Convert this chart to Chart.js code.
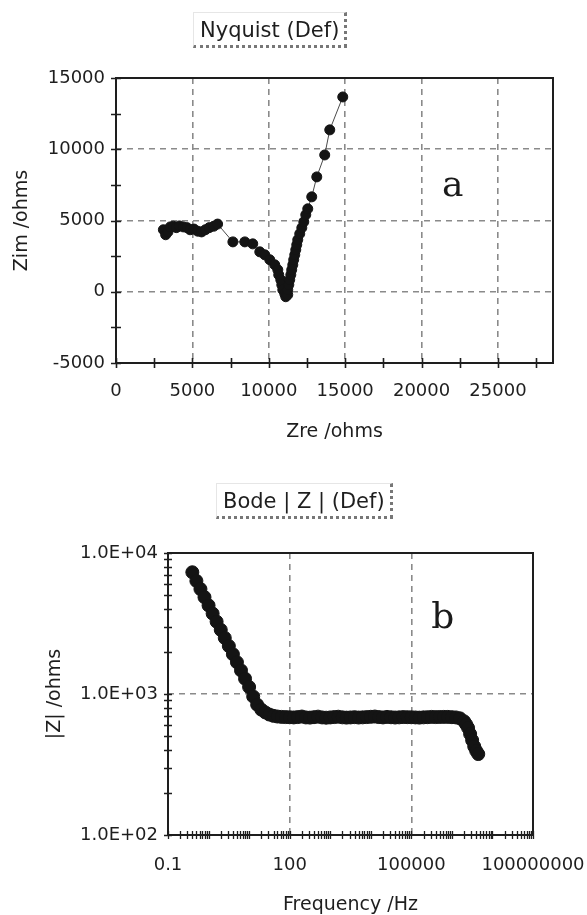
<!DOCTYPE html>
<html>
<head>
<meta charset="utf-8">
<title>Impedance spectra</title>
<script src="https://cdn.jsdelivr.net/npm/chart.js@4.4.1/dist/chart.umd.min.js"></script>
<style>
  html, body { margin: 0; padding: 0; background: #fff; overflow: hidden; }
  #page { position: relative; width: 587px; height: 915px; }
  canvas { position: absolute; left: 0; }
  #nyquist { top: 0; }
  #bode { top: 458px; }
  .plot-title {
    position: absolute;
    font: 21px "DejaVu Sans", sans-serif;
    line-height: 28px;
    color: #1e1e1e;
    white-space: nowrap;
    padding: 3px 5px 1px 6px;
    border-top: 1px solid #e6e6e6;
    border-left: 1px solid #e6e6e6;
    border-right: 3px dotted #777;
    border-bottom: 3px dotted #777;
  }
</style>
</head>
<body>
<div id="page">
  <canvas id="nyquist" width="587" height="460"></canvas>
  <canvas id="bode" width="587" height="457"></canvas>
  <div class="plot-title" style="left:193px; top:12px;">Nyquist (Def)</div>
  <div class="plot-title" style="left:216px; top:483px;">Bode | Z | (Def)</div>
</div>
<script>
// Nyquist: real and imaginary impedance, ohms
const zre = [
  3100, 3250, 3400, 3550, 3750, 3950, 4150, 4400, 4650, 4850, 5100, 5350,
  5600, 5850, 6100, 6400, 6650,
  7650, 8430, 8950, 9410, 9740, 10065, 10390, 10590, 10650, 10785, 10850,
  10915, 11045, 11110,
  11240, 11240, 11310, 11370, 11440, 11500, 11570, 11630, 11700, 11765,
  11830, 11895, 12025, 12160, 12290, 12420, 12550,
  12810, 13140, 13660, 13990, 14840,
];
const zim = [
  4350, 4000, 4200, 4550, 4600, 4500, 4620, 4550, 4500, 4350, 4400, 4250,
  4200, 4350, 4500, 4600, 4750,
  3500, 3500, 3360, 2800, 2590, 2245, 1890, 1540, 1190, 840, 490,
  140, -140, -350,
  -210, 140, 490, 840, 1190, 1540, 1890, 2245, 2590, 2945,
  3295, 3645, 4065, 4485, 4905, 5400, 5820,
  6660, 8060, 9600, 11360, 13670,
];

// Bode: frequency (Hz) and |Z| (ohms)
const freq = [
  0.398, 0.501, 0.631, 0.794, 1, 1.26, 1.58, 2, 2.51, 3.16, 3.98, 5.01, 6.31, 7.94,
  10, 12.6, 15.8, 20, 25.1, 31.6, 39.8, 50.1, 63.1, 79.4,
  100, 126, 158, 200, 251, 316, 398, 501, 631, 794,
  1000, 1260, 1580, 2000, 2510, 3160, 3980, 5010, 6310, 7940,
  10000, 12600, 15800, 20000, 25100, 31600, 39800, 50100, 63100, 79400,
  100000, 126000, 158000, 200000, 251000, 316000, 398000, 501000, 631000, 794000,
  1000000, 1260000, 1580000, 2000000, 2240000, 2510000, 2820000, 3160000,
  3550000, 3980000, 4470000,
];
const zmod = [
  7300, 6340, 5550, 4860, 4250, 3720, 3260, 2850, 2500, 2190, 1915, 1680, 1470, 1285,
  1120, 960, 840, 775, 740, 715, 700, 692, 688, 686,
  684, 682, 686, 692, 682, 680, 685, 691, 682, 679,
  682, 686, 690, 683, 680, 682, 685, 681, 683, 686,
  689, 692, 686, 682, 688, 684, 681, 683, 686, 685,
  684, 682, 680, 683, 685, 688, 686, 687, 688, 688,
  685, 682, 672, 640, 610, 575, 520, 470,
  425, 395, 375,
];

// Major ticks and labels
const nyqXTicks = [0, 5000, 10000, 15000, 20000, 25000];
const nyqYTicks = [-5000, 0, 5000, 10000, 15000];
const bodeXTicks = [0.1, 100, 100000, 100000000];
const bodeXLabels = ["0.1", "100", "100000", "100000000"];
const bodeYTicks = [100, 1000, 10000];
const bodeYLabels = ["1.0E+02", "1.0E+03", "1.0E+04"];

Chart.defaults.font.family = "'DejaVu Sans', sans-serif";
Chart.defaults.color = "#1e1e1e";

const linearSteps = (min, max, step) => {
  const out = [];
  for (let v = min; v <= max; v += step) out.push(v);
  return out;
};

const logSteps = (minExp, maxExp) => {
  const out = [];
  for (let e = minExp; e < maxExp; e++) {
    for (let m = 1; m <= 9; m++) out.push(m * Math.pow(10, e));
  }
  out.push(Math.pow(10, maxExp));
  return out;
};

// Box around the plot, tick marks crossing the axes, panel letter
const frameTicks = {
  id: "frameTicks",
  beforeDatasetsDraw(chart, args, opts) {
    const { ctx, chartArea: a, scales } = chart;
    ctx.save();
    ctx.strokeStyle = "#1e1e1e";
    ctx.lineWidth = 2;
    ctx.strokeRect(a.left, a.top, a.right - a.left, a.bottom - a.top);

    ctx.lineWidth = opts.tickWidth;
    ctx.beginPath();
    opts.xMinor.forEach((v) => {
      const px = Math.round(scales.x.getPixelForValue(v)) + 0.5;
      ctx.moveTo(px, a.bottom - opts.tickLen);
      ctx.lineTo(px, a.bottom + opts.tickLen);
    });
    opts.yMinor.forEach((v) => {
      const py = Math.round(scales.y.getPixelForValue(v)) + 0.5;
      ctx.moveTo(a.left - opts.tickLen, py);
      ctx.lineTo(a.left + opts.tickLen, py);
    });
    ctx.stroke();
    ctx.restore();
  },
  afterDatasetsDraw(chart, args, opts) {
    const { ctx, scales } = chart;
    ctx.save();
    ctx.font = "36px 'DejaVu Serif', serif";
    ctx.fillStyle = "#1a1a1a";
    ctx.textAlign = "center";
    ctx.textBaseline = "alphabetic";
    ctx.fillText(
      opts.label.text,
      scales.x.getPixelForValue(opts.label.x),
      scales.y.getPixelForValue(opts.label.y)
    );
    ctx.restore();
  },
};

const gridStyle = { color: "#8a8a8a", lineWidth: 1.6, drawTicks: false };
const borderStyle = { display: false, dash: [6, 5] };
const tickFont = { size: 18 };
const titleFont = { size: 19, lineHeight: 1 };

new Chart(document.getElementById("nyquist"), {
  type: "scatter",
  data: {
    datasets: [
      {
        data: zre.map((x, i) => ({ x, y: zim[i] })),
        showLine: true,
        borderColor: "#4a4a4a",
        borderWidth: 1,
        pointRadius: 5,
        pointBackgroundColor: "#141414",
        pointBorderColor: "#141414",
        pointBorderWidth: 1,
      },
    ],
  },
  options: {
    responsive: false,
    animation: false,
    layout: { padding: { top: 78, right: 34, left: 0, bottom: 0 } },
    plugins: {
      legend: { display: false },
      tooltip: { enabled: false },
      frameTicks: {
        xMinor: linearSteps(0, 27500, 2500),
        yMinor: linearSteps(-5000, 15000, 2500),
        tickLen: 5,
        tickWidth: 1.6,
        label: { text: "a", x: 22030, y: 6730 },
      },
    },
    scales: {
      x: {
        type: "linear",
        min: 0,
        max: 28600,
        afterBuildTicks: (s) => { s.ticks = nyqXTicks.map((value) => ({ value })); },
        afterFit: (s) => { s.height = 97; s.paddingLeft = 0; s.paddingRight = 0; },
        grid: gridStyle,
        border: borderStyle,
        ticks: { padding: 18, font: tickFont, maxRotation: 0, autoSkip: false, callback: (v) => String(v) },
        title: { display: true, text: "Zre /ohms", font: titleFont, padding: { top: 0, bottom: 18.5 } },
      },
      y: {
        type: "linear",
        min: -5000,
        max: 15000,
        afterBuildTicks: (s) => { s.ticks = nyqYTicks.map((value) => ({ value })); },
        afterFit: (s) => { s.width = 116; s.paddingTop = 0; s.paddingBottom = 0; },
        grid: gridStyle,
        border: borderStyle,
        ticks: { padding: 11, font: tickFont, autoSkip: false, callback: (v) => String(v) },
        title: { display: true, text: "Zim /ohms", font: titleFont, padding: { top: 12.5, bottom: 0 } },
      },
    },
  },
  plugins: [frameTicks],
});

new Chart(document.getElementById("bode"), {
  type: "scatter",
  data: {
    datasets: [
      {
        data: freq.map((x, i) => ({ x, y: zmod[i] })),
        pointRadius: 6.5,
        pointBackgroundColor: "#141414",
        pointBorderColor: "#141414",
        pointBorderWidth: 1,
      },
    ],
  },
  options: {
    responsive: false,
    animation: false,
    layout: { padding: { top: 95, right: 54, left: 0, bottom: 0 } },
    plugins: {
      legend: { display: false },
      tooltip: { enabled: false },
      frameTicks: {
        xMinor: logSteps(-1, 8),
        yMinor: logSteps(2, 4),
        tickLen: 4,
        tickWidth: 1.3,
        label: { text: "b", x: 593000, y: 2940 },
      },
    },
    scales: {
      x: {
        type: "logarithmic",
        min: 0.1,
        max: 100000000,
        afterBuildTicks: (s) => { s.ticks = bodeXTicks.map((value) => ({ value })); },
        afterFit: (s) => { s.height = 80; s.paddingLeft = 0; s.paddingRight = 0; },
        grid: gridStyle,
        border: borderStyle,
        ticks: { padding: 20, font: tickFont, maxRotation: 0, autoSkip: false, callback: (v, i) => bodeXLabels[i] },
        title: { display: true, text: "Frequency /Hz", font: titleFont, padding: { top: 0, bottom: 0.5 } },
      },
      y: {
        type: "logarithmic",
        min: 100,
        max: 10000,
        afterBuildTicks: (s) => { s.ticks = bodeYTicks.map((value) => ({ value })); },
        afterFit: (s) => { s.width = 168; s.paddingTop = 0; s.paddingBottom = 0; },
        grid: gridStyle,
        border: borderStyle,
        ticks: { padding: 10, font: tickFont, autoSkip: false, callback: (v, i) => bodeYLabels[i] },
        title: { display: true, text: "|Z| /ohms", font: titleFont, padding: { top: 45.5, bottom: 0 } },
      },
    },
  },
  plugins: [frameTicks],
});
</script>
</body>
</html>
